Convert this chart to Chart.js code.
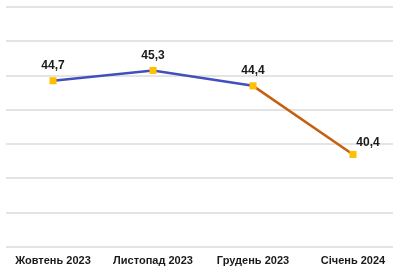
<!DOCTYPE html>
<html>
<head>
<meta charset="utf-8">
<script src="https://cdn.jsdelivr.net/npm/chart.js@4/dist/chart.umd.min.js"></script>
<style>
  html, body { margin: 0; padding: 0; background: #fff; }
  #wrap { width: 393px; height: 272px; position: relative; }
</style>
</head>
<body>
<div id="wrap"><canvas id="chart"></canvas></div>
<script>
const categories = ['Жовтень 2023', 'Листопад 2023', 'Грудень 2023', 'Січень 2024'];
const values = [44.7, 45.3, 44.4, 40.4];
const yTicks = [35, 37, 39, 41, 43, 45, 47, 49];

const BLUE = '#4150bd';
const ORANGE = '#c4600f';
const POINT = '#ffc000';

// простий плагін для підписів значень
const valueLabels = {
    id: 'valueLabels',
    afterDatasetsDraw(chart) {
        const ctx = chart.ctx;
        const meta = chart.getDatasetMeta(0);
        ctx.save();
        ctx.font = 'bold 12px "Liberation Sans", Arial, sans-serif';
        ctx.fillStyle = '#1a1a1a';
        ctx.textAlign = 'center';
        ctx.textBaseline = 'middle';
        meta.data.forEach((pt, i) => {
            const last = i === meta.data.length - 1;
            const dx = last ? 15 : 0;
            const dy = last ? 12 : 15;
            ctx.fillText(values[i].toFixed(1).replace('.', ','), pt.x + dx, pt.y - dy);
        });
        ctx.restore();
    }
};

new Chart(document.getElementById('chart'), {
    type: 'line',
    data: {
        datasets: [{
            data: values.map((v, i) => ({ x: i, y: v })),
            borderColor: BLUE,
            borderWidth: 2.5,
            segment: {
                borderColor: c => c.p0DataIndex >= 2 ? ORANGE : BLUE
            },
            pointStyle: 'rect',
            pointRadius: 5,
            pointBackgroundColor: POINT,
            pointBorderColor: POINT,
            pointBorderWidth: 0,
            tension: 0
        }]
    },
    options: {
        responsive: true,
        maintainAspectRatio: false,
        animation: false,
        layout: { autoPadding: false, padding: { left: 6, right: 0, top: 7, bottom: 5 } },
        plugins: {
            legend: { display: false },
            tooltip: { enabled: false }
        },
        scales: {
            x: {
                type: 'linear',
                min: -0.47,
                max: 3.4,
                grid: { display: false, drawTicks: false },
                border: { display: false },
                afterFit: axis => {
                    axis.height = 20;
                    axis.paddingLeft = 0;
                    axis.paddingRight = 0;
                },
                ticks: {
                    stepSize: 1,
                    includeBounds: false,
                    autoSkip: false,
                    maxRotation: 0,
                    padding: 7,
                    color: '#1a1a1a',
                    font: { family: '"Liberation Sans", Arial, sans-serif', size: 11, weight: 'bold' },
                    callback: v => Number.isInteger(v) ? categories[v] : ''
                }
            },
            y: {
                min: yTicks[0],
                max: yTicks[yTicks.length - 1],
                afterBuildTicks: axis => { axis.ticks = yTicks.map(v => ({ value: v })); },
                ticks: { display: false },
                grid: { color: '#e4e4e4', lineWidth: 2, drawTicks: false },
                border: { display: false }
            }
        }
    },
    plugins: [valueLabels]
});
</script>
</body>
</html>
